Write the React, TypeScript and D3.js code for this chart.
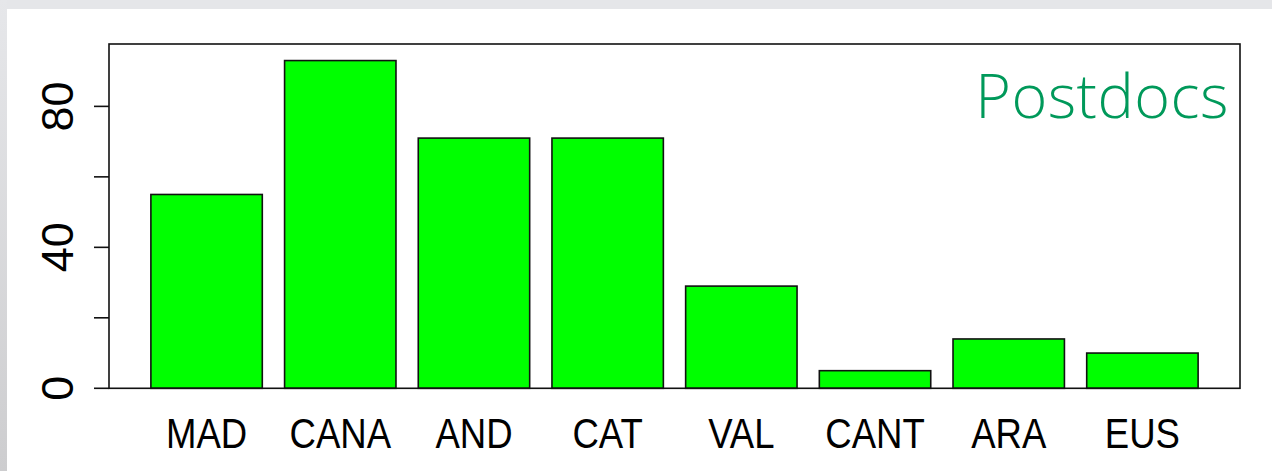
import React from "react";
import * as d3 from "d3";

const categories = ["MAD", "CANA", "AND", "CAT", "VAL", "CANT", "ARA", "EUS"];
const values = [55, 93, 71, 71, 29, 5, 14, 10];
const yTicks = [0, 20, 40, 60, 80];
const yTickLabels = [0, 40, 80];
const title = "Postdocs";

const W = 1272;
const H = 471;
const box = { left: 109, right: 1240, top: 44, bottom: 388.3 };

export default function App() {
  const barW = 1;
  const space = 0.2;
  const lefts = categories.map((_, i) => space + i * (barW + space));
  const xMin = lefts[0];
  const xMax = lefts[lefts.length - 1] + barW;
  const pad = (xMax - xMin) * 0.04;
  const x = d3.scaleLinear().domain([xMin - pad, xMax + pad]).range([box.left, box.right]);
  const y = d3.scaleLinear().domain([0, 97.7]).range([box.bottom, box.top]);

  return (
    <svg width={W} height={H} style={{ position: "absolute", left: 0, top: 0 }}>
      <defs>
        <linearGradient id="lg" x1="0" y1="0" x2="0" y2="1">
          <stop offset="0" stopColor="#e6e7ea" />
          <stop offset="1" stopColor="#cdcdcf" />
        </linearGradient>
      </defs>
      <rect x={0} y={0} width={W} height={H} fill="#e5e6e9" />
      <rect x={0} y={0} width={7} height={H} fill="url(#lg)" />
      <rect x={7} y={9} width={W - 7} height={H - 9} fill="#ffffff" />

      {values.map((v, i) => (
        <rect
          key={categories[i]}
          x={x(lefts[i])}
          y={y(v)}
          width={x(lefts[i] + barW) - x(lefts[i])}
          height={y(0) - y(v)}
          fill="#00ff00"
          stroke="#111"
          strokeWidth={1.6}
        />
      ))}

      <rect
        x={box.left}
        y={box.top}
        width={box.right - box.left}
        height={box.bottom - box.top}
        fill="none"
        stroke="#111"
        strokeWidth={1.6}
      />

      {yTicks.map((t) => (
        <line key={t} x1={box.left - 15} x2={box.left} y1={y(t)} y2={y(t)} stroke="#111" strokeWidth={1.6} />
      ))}
      {yTickLabels.map((t) => (
        <text
          key={t}
          transform={`translate(73,${y(t)}) rotate(-90)`}
          textAnchor="middle"
          fontFamily="Liberation Sans, Arial, sans-serif"
          fontSize={45}
          fill="#000"
        >
          {t}
        </text>
      ))}

      {categories.map((c, i) => (
        <text
          key={c}
          transform={`translate(${x(lefts[i] + barW / 2)},448) scale(0.85,1)`}
          textAnchor="middle"
          fontFamily="Liberation Sans, Arial, sans-serif"
          fontSize={43}
          fill="#000"
        >
          {c}
        </text>
      ))}

      <text
        x={1229}
        y={118}
        textAnchor="end"
        fontFamily="'Open Sans', sans-serif"
        fontWeight={300}
        fontSize={61}
        fill="#00995a"
        style={{ letterSpacing: "0.5px" }}
      >
        {title}
      </text>
    </svg>
  );
}
